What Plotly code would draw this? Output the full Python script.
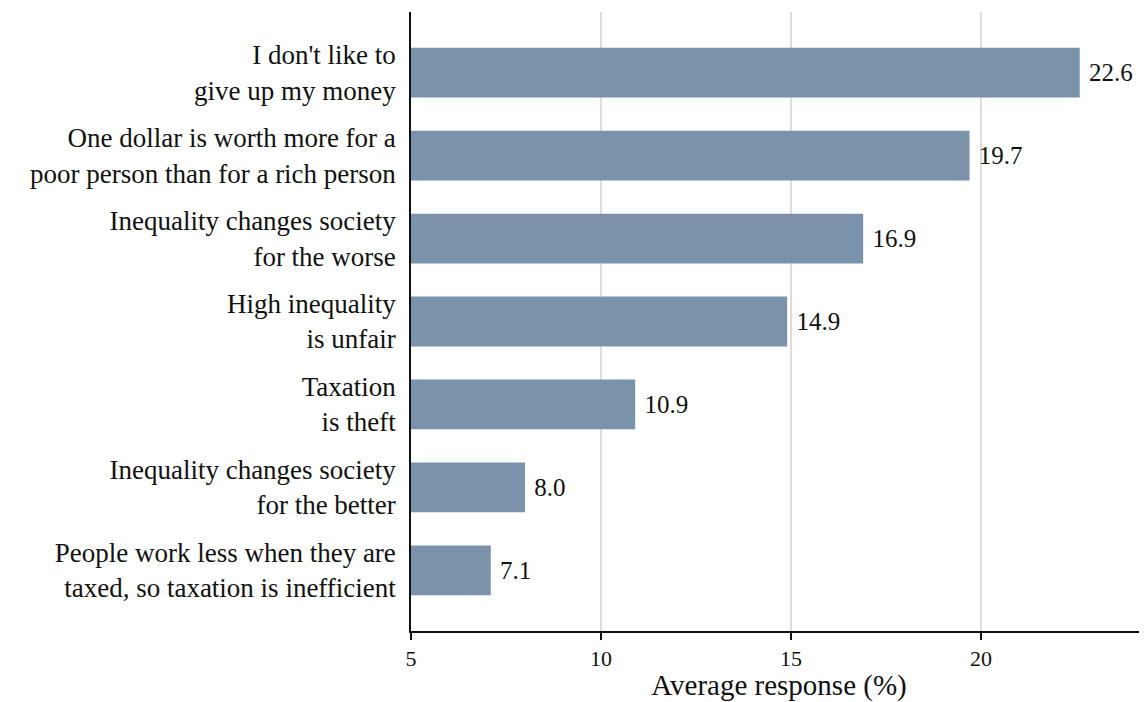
import plotly.graph_objects as go

categories = [
    "I don't like to<br>give up my money",
    "One dollar is worth more for a<br>poor person than for a rich person",
    "Inequality changes society<br>for the worse",
    "High inequality<br>is unfair",
    "Taxation<br>is theft",
    "Inequality changes society<br>for the better",
    "People work less when they are<br>taxed, so taxation is inefficient",
]
values = [22.6, 19.7, 16.9, 14.9, 10.9, 8.0, 7.1]
x_ticks = [5, 10, 15, 20]

font_family = '"Liberation Serif", "DejaVu Serif", serif'

fig = go.Figure(
    go.Bar(
        x=values,
        y=categories,
        orientation="h",
        marker=dict(color="#7b93aa", line=dict(width=0)),
        width=0.6,
        text=["\u00a0" + f"{v:.1f}" for v in values],
        textposition="outside",
        textfont=dict(family=font_family, size=25, color="#111111"),
        cliponaxis=False,
    )
)

fig.update_layout(
    width=1139,
    height=694,
    margin=dict(l=403, r=0, t=4, b=71),
    plot_bgcolor="white",
    paper_bgcolor="white",
    font=dict(family=font_family, color="#111111"),
    showlegend=False,
    bargap=0.4,
)

fig.update_xaxes(
    range=[5, 24.37],
    tickvals=x_ticks,
    ticks="outside",
    ticklen=7,
    tickwidth=1.5,
    tickcolor="#111111",
    tickfont=dict(size=22),
    showline=True,
    linecolor="#111111",
    linewidth=1.5,
    showgrid=True,
    gridcolor="#dddddd",
    gridwidth=2,
    zeroline=False,
    title=dict(text="Average response (%)", font=dict(size=29), standoff=4),
)

fig.update_yaxes(
    categoryorder="array",
    categoryarray=categories[::-1],
    range=[-0.73, 6.73],
    showline=True,
    linecolor="#111111",
    linewidth=1.5,
    ticks="",
    showgrid=False,
    zeroline=False,
    tickfont=dict(size=27),
    ticklabelstandoff=8,
)

fig.write_html("out.html")
